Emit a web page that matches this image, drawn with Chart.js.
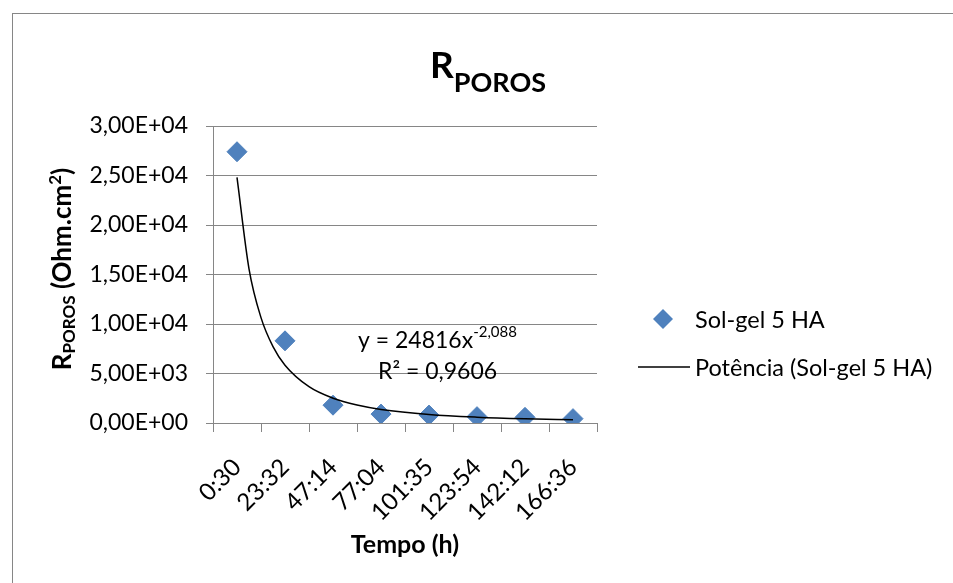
<!DOCTYPE html>
<html>
<head>
<meta charset="utf-8">
<script src="https://cdn.jsdelivr.net/npm/chart.js@4.4.0/dist/chart.umd.min.js"></script>
<style>
  html, body { margin: 0; padding: 0; background: #fff; }
  #wrap { width: 953px; height: 583px; position: relative; }
</style>
</head>
<body>
<div id="wrap"><canvas id="chart" width="953" height="583"></canvas></div>
<script>
const categories = ['0:30', '23:32', '47:14', '77:04', '101:35', '123:54', '142:12', '166:36'];
const solGelValues = [27400, 8300, 1800, 900, 800, 640, 570, 440];
// power trendline as drawn in the picture (x = category number)
const trendX = [1, 1.25, 1.5, 1.75, 2, 2.5, 3, 3.5, 4, 5, 6, 7, 8];
const trendY = [24816, 15573, 10643, 7714, 5837, 3663, 2503, 1814, 1373, 862, 589, 427, 323];
const yTicks = [0, 5000, 10000, 15000, 20000, 25000, 30000];

const FONT = 'Lato, "Open Sans", sans-serif';
const GRID = '#868686';

function sciComma(v) {
  if (v === 0) return '0,00E+00';
  const e = Math.floor(Math.log10(v));
  const m = v / Math.pow(10, e);
  return m.toFixed(2).replace('.', ',') + 'E' + (e >= 0 ? '+' : '-') + String(Math.abs(e)).padStart(2, '0');
}

// draws a run of [text, size, dy] pieces starting at x, returns width
function runText(ctx, parts, x, y, bold, measureOnly) {
  let w = 0;
  parts.forEach(([t, size, dy]) => {
    ctx.font = (bold ? 'bold ' : '') + size + 'px ' + FONT;
    if (!measureOnly) ctx.fillText(t, x + w, y + dy);
    w += ctx.measureText(t).width;
  });
  return w;
}

const decorations = {
  id: 'decorations',
  beforeDraw(chart) {
    const ctx = chart.ctx;
    ctx.save();
    ctx.fillStyle = '#fff';
    ctx.fillRect(0, 0, chart.width, chart.height);
    ctx.strokeStyle = GRID;
    ctx.lineWidth = 1;
    ctx.strokeRect(12.5, 13.5, chart.width, chart.height);
    ctx.restore();
  },
  afterDraw(chart) {
    const ctx = chart.ctx;
    ctx.save();
    ctx.fillStyle = '#000';
    ctx.textBaseline = 'alphabetic';
    ctx.textAlign = 'left';

    // title R_POROS
    runText(ctx, [['R', 37, 0], ['POROS', 27, 14]], 430, 78, true);

    // x axis title
    const xParts = [['Tempo (h)', 25, 0]];
    const xw = runText(ctx, xParts, 0, 0, true, true);
    runText(ctx, xParts, 405 - xw / 2, 553, true);

    // y axis title, rotated
    const yParts = [['R', 26, 0], ['POROS', 17, 4], [' (Ohm.cm', 26, 0], ['2', 17, -10], [')', 26, 0]];
    const tw = runText(ctx, yParts, 0, 0, true, true);
    ctx.translate(71, 269);
    ctx.rotate(-Math.PI / 2);
    runText(ctx, yParts, -tw / 2, 0, true);
    ctx.setTransform(1, 0, 0, 1, 0, 0);

    // trendline equation
    ctx.textBaseline = 'middle';
    runText(ctx, [['y = 24816x', 23, 0], ['-2,088', 15, -9]], 358, 341, false);
    runText(ctx, [['R² = 0,9606', 23, 0]], 378, 372, false);

    // legend
    ctx.fillStyle = '#4f81bd';
    ctx.beginPath();
    ctx.moveTo(663, 309); ctx.lineTo(673, 319); ctx.lineTo(663, 329); ctx.lineTo(653, 319);
    ctx.closePath();
    ctx.fill();
    ctx.strokeStyle = '#000';
    ctx.lineWidth = 1.5;
    ctx.beginPath();
    ctx.moveTo(638, 367); ctx.lineTo(690, 367);
    ctx.stroke();
    ctx.fillStyle = '#000';
    runText(ctx, [['Sol-gel 5 HA', 23.5, 0]], 695, 320, false);
    runText(ctx, [['Potência (Sol-gel 5 HA)', 23.5, 0]], 695, 368, false);
    ctx.restore();
  }
};

new Chart(document.getElementById('chart'), {
  type: 'scatter',
  data: {
    datasets: [
      {
        label: 'Potência (Sol-gel 5 HA)',
        data: trendX.map((x, i) => ({ x, y: trendY[i] })),
        showLine: true,
        pointRadius: 0,
        borderColor: '#000',
        borderWidth: 1.5,
        cubicInterpolationMode: 'monotone',
        order: 0
      },
      {
        label: 'Sol-gel 5 HA',
        data: solGelValues.map((y, i) => ({ x: i + 1, y })),
        pointStyle: 'rectRot',
        pointRadius: 10,
        pointHoverRadius: 10,
        backgroundColor: '#4f81bd',
        borderColor: '#4f81bd',
        borderWidth: 1,
        order: 1
      }
    ]
  },
  options: {
    responsive: false,
    animation: false,
    layout: { padding: { left: 0, top: 126, right: 356, bottom: 0 } },
    plugins: {
      legend: { display: false },
      title: { display: false },
      tooltip: { enabled: false }
    },
    scales: {
      x: {
        type: 'linear',
        min: 0.5,
        max: 8.5,
        afterBuildTicks: scale => { scale.ticks = categories.map((c, i) => ({ value: i + 1 })); },
        afterFit: scale => { scale.height = 160; },
        ticks: {
          callback: (v) => categories[Math.round(v) - 1] || '',
          color: '#000',
          font: { family: FONT, size: 24 },
          minRotation: 45,
          maxRotation: 45,
          padding: 21
        },
        grid: { offset: true, drawOnChartArea: false, color: GRID, tickLength: 9 },
        border: { color: GRID }
      },
      y: {
        min: 0,
        max: 30000,
        afterBuildTicks: scale => { scale.ticks = yTicks.map(v => ({ value: v })); },
        afterFit: scale => { scale.width = 213; },
        ticks: {
          callback: v => sciComma(v),
          color: '#000',
          font: { family: FONT, size: 23 },
          padding: 18
        },
        grid: { color: GRID, tickLength: 7 },
        border: { color: GRID }
      }
    }
  },
  plugins: [decorations]
});
</script>
</body>
</html>
